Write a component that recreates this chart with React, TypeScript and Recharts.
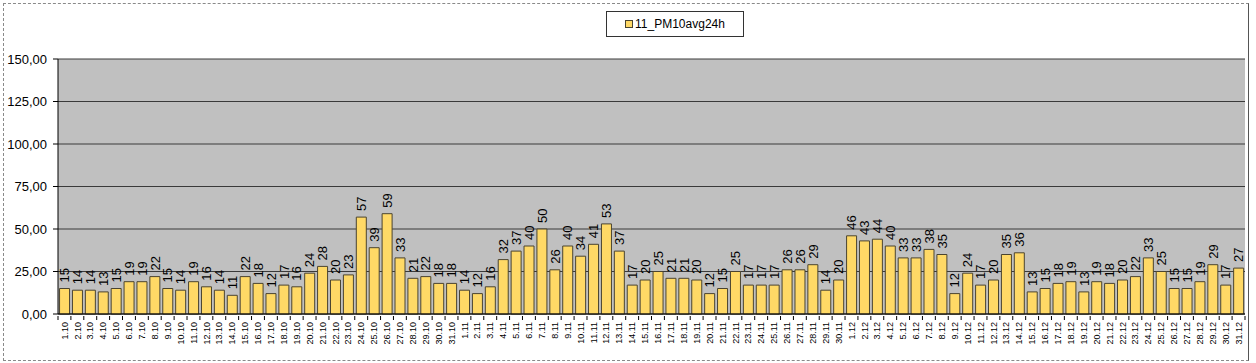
import {
  Bar,
  BarChart,
  CartesianGrid,
  LabelList,
  Legend,
  XAxis,
  YAxis,
} from "recharts";

const octDays = [
  "1.10", "2.10", "3.10", "4.10", "5.10", "6.10", "7.10", "8.10", "9.10", "10.10",
  "11.10", "12.10", "13.10", "14.10", "15.10", "16.10", "17.10", "18.10", "19.10", "20.10",
  "21.10", "22.10", "23.10", "24.10", "25.10", "26.10", "27.10", "28.10", "29.10", "30.10", "31.10",
];
const novDays = [
  "1.11", "2.11", "3.11", "4.11", "5.11", "6.11", "7.11", "8.11", "9.11", "10.11",
  "11.11", "12.11", "13.11", "14.11", "15.11", "16.11", "17.11", "18.11", "19.11", "20.11",
  "21.11", "22.11", "23.11", "24.11", "25.11", "26.11", "27.11", "28.11", "29.11", "30.11",
];
const decDays = [
  "1.12", "2.12", "3.12", "4.12", "5.12", "6.12", "7.12", "8.12", "9.12", "10.12",
  "11.12", "12.12", "13.12", "14.12", "15.12", "16.12", "17.12", "18.12", "19.12", "20.12",
  "21.12", "22.12", "23.12", "24.12", "25.12", "26.12", "27.12", "28.12", "29.12", "30.12", "31.12",
];

const octValues = [
  15, 14, 14, 13, 15, 19, 19, 22, 15, 14, 19, 16, 14, 11, 22, 18, 12, 17, 16, 24,
  28, 20, 23, 57, 39, 59, 33, 21, 22, 18, 18,
];
const novValues = [
  14, 12, 16, 32, 37, 40, 50, 26, 40, 34, 41, 53, 37, 17, 20, 25, 21, 21, 20, 12,
  15, 25, 17, 17, 17, 26, 26, 29, 14, 20,
];
const decValues = [
  46, 43, 44, 40, 33, 33, 38, 35, 12, 24, 17, 20, 35, 36, 13, 15, 18, 19, 13, 19,
  18, 20, 22, 33, 25, 15, 15, 19, 29, 17, 27,
];

const yTicks = [0, 25, 50, 75, 100, 125, 150];
const seriesName = "11_PM10avg24h";

const days = [...octDays, ...novDays, ...decDays];
const values = [...octValues, ...novValues, ...decValues];
const data = days.map((day, i) => ({ day, pm10: values[i] }));

const FONT = "Arial, 'Liberation Sans', sans-serif";
const BAR_FILL = "#FFD966";
const BAR_STROKE = "#4a4430";
const PLOT_LEFT = 58;
const PLOT_RIGHT = 1245;
const band = (PLOT_RIGHT - PLOT_LEFT) / days.length;

const XTick = (props: any) => {
  const { x, y, payload, index } = props;
  const left = x - band / 2;
  return (
    <g>
      <line x1={left} y1={y - 6} x2={left} y2={y - 2} stroke="#000" />
      {index === days.length - 1 && (
        <line x1={x + band / 2} y1={y - 6} x2={x + band / 2} y2={y - 2} stroke="#000" />
      )}
      <text
        transform={`translate(${x},${y}) rotate(-90)`}
        textAnchor="end"
        dy="0.35em"
        fontSize={9}
        fontFamily={FONT}
        fill="#000"
      >
        {payload.value}
      </text>
    </g>
  );
};

const ValueLabel = (props: any) => {
  const { x, y, width, value } = props;
  return (
    <text
      transform={`translate(${x + width / 2},${y - 6}) rotate(-90)`}
      textAnchor="start"
      dy="0.36em"
      fontSize={13}
      fontFamily={FONT}
      fill="#000"
    >
      {value}
    </text>
  );
};

const LegendBox = () => (
  <div
    style={{
      boxSizing: "border-box",
      width: 138,
      height: 26,
      border: "1px solid #333",
      background: "#fff",
      display: "flex",
      alignItems: "center",
      justifyContent: "center",
      fontFamily: FONT,
      fontSize: 12,
      color: "#000",
    }}
  >
    <span
      style={{
        display: "inline-block",
        width: 6,
        height: 6,
        background: BAR_FILL,
        border: `1px solid ${BAR_STROKE}`,
        marginRight: 2,
      }}
    />
    {seriesName}
  </div>
);

export default function App() {
  return (
    <div style={{ position: "absolute", left: 0, top: 0, width: 1256, height: 363, background: "#fff" }}>
      <div
        style={{
          position: "absolute",
          left: 3,
          top: 3,
          width: 1244,
          height: 356,
          border: "1px dashed #8a8a8a",
          borderRight: "1px solid #555",
        }}
      />
      <BarChart
        width={1256}
        height={363}
        data={data}
        margin={{ top: 59, right: 11, bottom: 0, left: 8 }}
        barCategoryGap="12%"
      >
        <CartesianGrid vertical={false} fill="#C0C0C0" stroke="#3a3a3a" />
        <XAxis
          dataKey="day"
          interval={0}
          height={49}
          tickLine={false}
          axisLine={{ stroke: "#000" }}
          tick={<XTick />}
        />
        <YAxis
          domain={[0, 150]}
          ticks={yTicks}
          width={50}
          tickSize={5}
          tickMargin={6}
          axisLine={{ stroke: "#000" }}
          tickLine={{ stroke: "#000" }}
          tick={{ fontSize: 13, fontFamily: FONT, fill: "#000" }}
          tickFormatter={(v: number) => v.toFixed(2).replace(".", ",")}
        />
        <YAxis
          yAxisId="edge"
          orientation="right"
          width={0}
          tick={false}
          tickLine={false}
          axisLine={{ stroke: "#808080" }}
        />
        <Legend
          layout="horizontal"
          verticalAlign="middle"
          align="center"
          content={<LegendBox />}
          wrapperStyle={{ top: 11, left: 606, width: 138, height: 26 }}
        />
        <Bar
          dataKey="pm10"
          name={seriesName}
          fill={BAR_FILL}
          stroke={BAR_STROKE}
          strokeWidth={1}
          isAnimationActive={false}
        >
          <LabelList dataKey="pm10" content={<ValueLabel />} />
        </Bar>
      </BarChart>
    </div>
  );
}
